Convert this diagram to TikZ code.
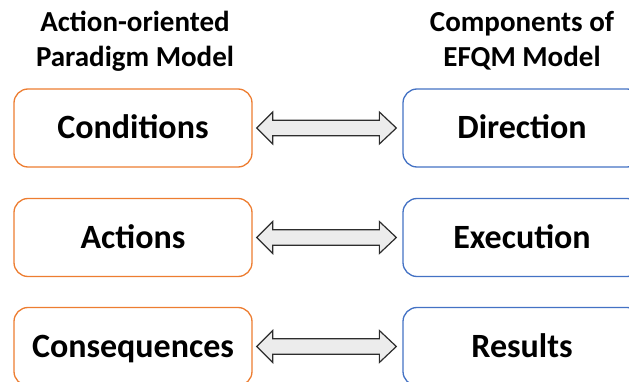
\documentclass[tikz,border=0pt]{standalone}
\usepackage{fontspec}
\setmainfont{Carlito}
\usetikzlibrary{calc}
\definecolor{boxorange}{RGB}{237,125,49}
\definecolor{boxblue}{RGB}{68,114,196}
\definecolor{arrowfill}{RGB}{236,236,236}
\definecolor{arrowline}{RGB}{45,45,45}
\tikzset{
  model/.style={rectangle, rounded corners=14pt, line width=1.3pt, fill=white,
    minimum width=238pt, minimum height=78pt, inner sep=0pt,
    font=\fontsize{34}{40}\selectfont\bfseries, text height=22pt, text depth=0pt},
  leftbox/.style={model, draw=boxorange},
  rightbox/.style={model, draw=boxblue},
  heading/.style={font=\fontsize{29}{35}\selectfont\bfseries, inner sep=0pt, anchor=base},
  link/.style={draw=arrowline, fill=arrowfill, line width=1.2pt, line join=miter}
}
% block double arrow between two node anchors
\newcommand{\blockarrow}[2]{%
  \path[link] let \p1=(#1.east), \p2=(#2.west) in
    (\x1+4pt,\y1) -- (\x1+20pt,\y1+16pt) -- (\x1+20pt,\y1+7.7pt)
    -- (\x2-23pt,\y1+7.7pt) -- (\x2-23pt,\y1+16pt) -- (\x2-6pt,\y1)
    -- (\x2-23pt,\y1-16pt) -- (\x2-23pt,\y1-7.7pt) -- (\x1+20pt,\y1-7.7pt)
    -- (\x1+20pt,\y1-16pt) -- cycle;}
\begin{document}
\begin{tikzpicture}[x=1pt, y=-1pt]
\useasboundingbox (0,0) rectangle (629,382);
\clip (0,0) rectangle (629,382);

% column headings
\node[heading] (hl1) at (135,32) {Action-oriented};
\node[heading] (hl2) at (135,67) {Paradigm Model};
\node[heading] (hr1) at (522,32) {Components of};
\node[heading] (hr2) at (522,67) {EFQM Model};

% paradigm model stages
\node[leftbox] (cond) at (133,128) {Conditions};
\node[leftbox] (act)  at (133,237.5) {Actions};
\node[leftbox] (cons) at (133,346.5) {Consequences};

% EFQM components
\node[rightbox] (dir) at (522,128) {Direction};
\node[rightbox] (exe) at (522,237.5) {Execution};
\node[rightbox] (res) at (522,346.5) {Results};

% correspondences
\blockarrow{cond}{dir}
\blockarrow{act}{exe}
\blockarrow{cons}{res}
\end{tikzpicture}
\end{document}
